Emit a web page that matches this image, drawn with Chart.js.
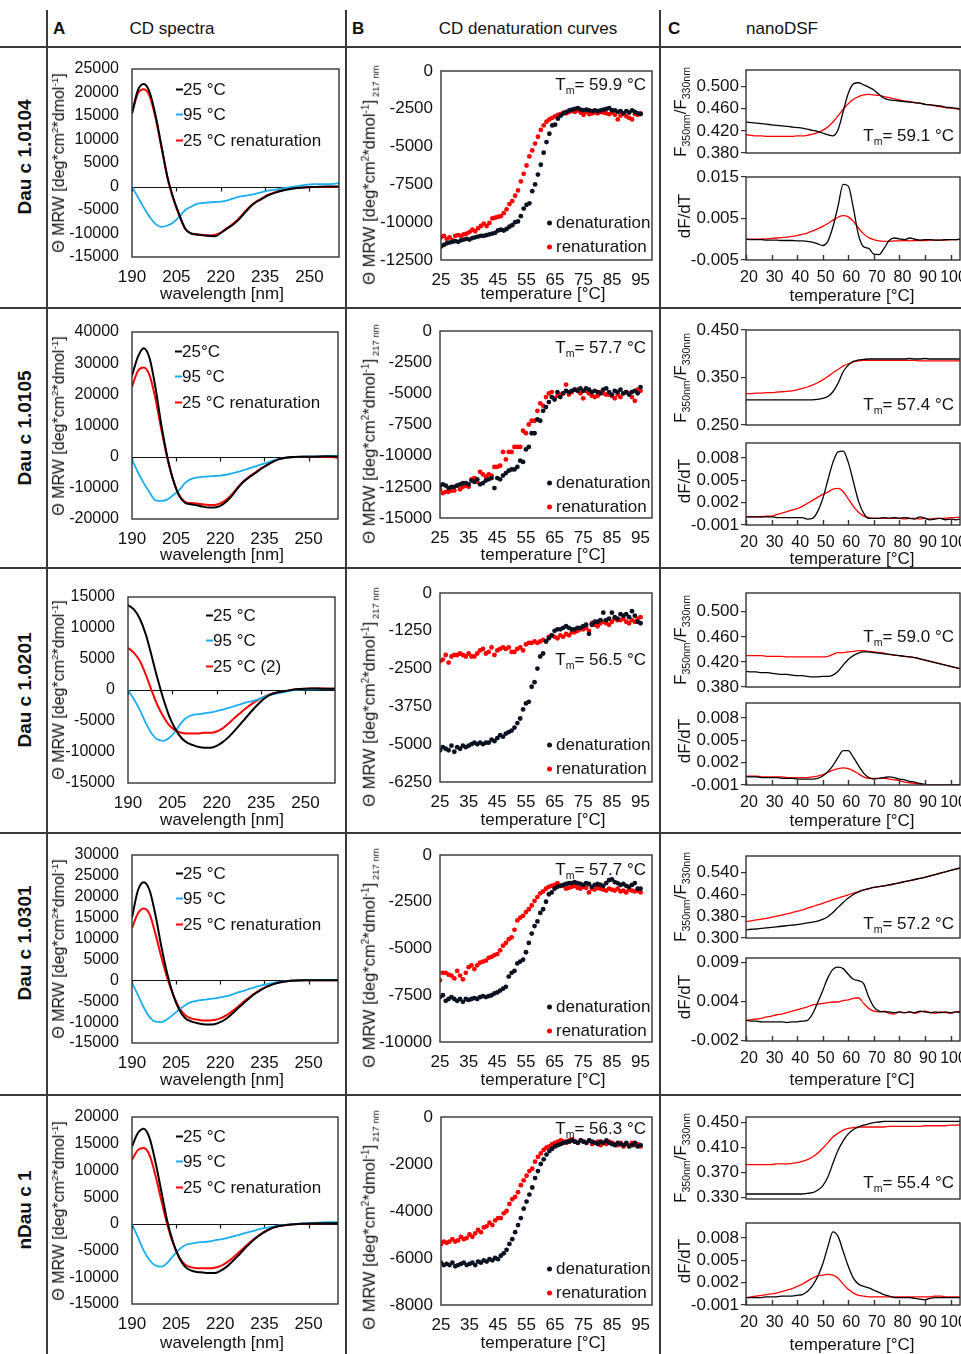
<!DOCTYPE html>
<html>
<head>
<meta charset="utf-8">
<script src="https://cdn.jsdelivr.net/npm/chart.js@4.4.1/dist/chart.umd.min.js"></script>
<style>
  body { margin: 0; background: #fff; }
  #fig { position: relative; width: 961px; height: 1354px; overflow: hidden; font-family: 'Liberation Sans', Arial, sans-serif; color: #111; font-size: 17px; }
  #fig canvas { position: absolute; }
  sub, sup { font-size: 62%; line-height: 0; }
  .dash { display: inline-block; width: 7px; height: 2px; vertical-align: middle; margin-top: -1px; }
  .dot { display: inline-block; width: 5px; height: 5px; border-radius: 50%; vertical-align: middle; margin-right: 4px; }
</style>
</head>
<body>
<div id="fig"></div>
<script>
// ---- x grids ----
const nm = [190,192,194,196,198,200,202,204,206,208,210,212,214,216,218,220,222,224,226,228,230,232,234,236,238,240,244,248,252,256,260];
const tempC = [25,26,27,28,29,30,31,32,33,34,35,36,37,38,39,40,41,42,43,44,45,46,47,48,49,50,51,52,53,54,55,56,57,58,59,60,61,62,63,64,65,66,67,68,69,70,71,72,73,74,75,76,77,78,79,80,81,82,83,84,85,86,87,88,89,90,91,92,93,94,95];
const dsfT = [20,22,24,26,28,30,32,34,36,38,40,42,44,46,48,50,52,54,56,58,60,62,64,66,68,70,72,74,76,78,80,82,84,86,88,90,92,94,96,98,100,102,104];

// ---- Dau c 1.0104 ----
const cd1_25 = [15500,20500,21800,20000,15000,8500,2000,-2500,-6000,-9000,-10000,-10200,-10400,-10500,-10600,-9900,-9000,-8200,-7100,-5700,-4300,-3300,-2600,-1900,-1400,-1000,-500,-200,-100,0,0];
const cd1_95 = [0,-2300,-4500,-6500,-8000,-8600,-8300,-7600,-6400,-5000,-4300,-3700,-3500,-3400,-3300,-3200,-3000,-2600,-2200,-2000,-1800,-1500,-1200,-900,-700,-500,-100,300,500,500,700];
const cd1_re = [15800,19800,20700,19200,14500,8200,1800,-2700,-6200,-9000,-10000,-10200,-10300,-10400,-10300,-9800,-8900,-8000,-6900,-5500,-4200,-3200,-2500,-1800,-1300,-900,-400,-200,-100,-100,-100];
const den1 = [-11600,-11500,-11400,-11350,-11300,-11250,-11300,-11200,-11150,-11100,
  -11150,-11050,-11000,-10950,-10900,-10900,-10850,-10800,-10750,-10700,
  -10550,-10500,-10550,-10450,-10300,-10200,-10000,-9950,-9600,-9100,
  -8850,-8750,-7950,-7500,-6850,-6200,-5400,-4700,-4150,-3600,
  -3550,-3150,-2950,-2800,-2700,-2600,-2550,-2500,-2450,-2550,
  -2600,-2550,-2600,-2650,-2600,-2650,-2600,-2550,-2500,-2450,
  -2600,-2600,-2700,-2650,-2800,-2650,-2750,-2600,-2700,-2800,-2850];
const ren1 = [-11000,-10900,-11100,-11000,-11200,-10900,-10850,-10900,-10800,-10750,
  -10650,-10500,-10600,-10400,-10250,-10100,-10250,-10050,-9750,-9700,
  -9650,-9600,-9400,-9150,-8800,-8600,-8250,-7900,-7300,-6800,
  -6250,-5650,-5250,-4800,-4350,-3900,-3600,-3350,-3200,-3100,
  -3000,-2900,-2850,-2750,-2800,-2700,-2650,-2700,-2600,-2750,
  -2900,-2700,-2850,-2800,-2750,-2800,-2700,-2750,-2800,-2850,
  -2750,-2900,-3200,-2950,-2800,-3000,-3100,-3200,-2850,-2900,-2800];
const ratio1_k = [.436,.435,.434,.433,.432,.431,.430,.429,.428,.427, .426,.425,.423,.421,.419,.416,.413,.411,.422,.455,
  .488,.505,.507,.503,.499,.494,.486,.479,.476,.475, .474,.473,.472,.471,.470,.468,.467,.466,.465,.463, .462,.461,.459];
const ratio1_r = [.413,.412,.411,.411,.410,.410,.410,.410,.410,.410, .411,.411,.412,.414,.417,.421,.427,.436,.447,.459,
  .469,.477,.482,.485,.486,.485,.484,.482,.480,.478, .476,.474,.473,.471,.470,.468,.467,.465,.464,.462, .461,.460,.458];
const deriv1_k = [0,-.0001,-.0001,-.0001,-.0002,-.0002,-.0002,-.0003,-.0003,-.0003, -.0004,-.0004,-.0005,-.0007,-.0011,-.0015,-.0005,.003,.008,.0132,
  .0128,.0075,.001,-.0018,-.0022,-.0036,-.0037,-.0022,-.0003,.0003, .0001,-.0001,.0003,0,-.0002,-.0001,-.0001,-.0002,-.0002,-.0001, -.0001,-.0001,0];
const deriv1_r = [0,0,0,.0001,.0001,.0002,.0003,.0004,.0005,.0007, .0009,.0012,.0015,.002,.0025,.0031,.0038,.0046,.0053,.0057,
  .0054,.0043,.0027,.0013,.0004,-.0001,-.0004,-.0005,-.0005,-.0004, -.0004,-.0003,-.0004,-.0003,-.0003,-.0003,-.0002,-.0002,-.0002,-.0002, -.0001,-.0001,0];

// ---- Dau c 1.0105 ----
const cd2_25 = [26000,32000,34800,31500,22000,10000,0,-7500,-12500,-14800,-15300,-15600,-16000,-16300,-16300,-15800,-14500,-12500,-10000,-8000,-6500,-5200,-3800,-2600,-1600,-800,-100,0,0,100,0];
const cd2_95 = [-1000,-5000,-8500,-11500,-14000,-14200,-13800,-12300,-10800,-8500,-7200,-6700,-6500,-6300,-6200,-6100,-5800,-5400,-4900,-4300,-3700,-3100,-2500,-1900,-1200,-700,-200,0,100,200,300];
const cd2_re = [22500,27500,28600,26000,18500,8500,-500,-7500,-12300,-14500,-14900,-15000,-15300,-15500,-15500,-15000,-13800,-12000,-9800,-7800,-6300,-5000,-3700,-2600,-1600,-800,-200,0,0,0,-300];
const den2 = [-12400,-12300,-12400,-12600,-12500,-12500,-12400,-12300,-12200,-12200,
  -12300,-12000,-12100,-11900,-12300,-12200,-12000,-11900,-11800,-12600,
  -11800,-11900,-11600,-11400,-11200,-11100,-11100,-10900,-10400,-10500,
  -9500,-9300,-8200,-8200,-7100,-7200,-6400,-6100,-5700,-5300,
  -5500,-4900,-5300,-5000,-4800,-4900,-4800,-4700,-4800,-4600,
  -4800,-4600,-4700,-4900,-4800,-4900,-5000,-4700,-4600,-4900,
  -5100,-4800,-4900,-4700,-5000,-4900,-5100,-4900,-4800,-5000,-4500];
const ren2 = [-12700,-13000,-12900,-12900,-12800,-12800,-12400,-12700,-12500,-12400,
  -12500,-11900,-11800,-12100,-11300,-11500,-11700,-11500,-11600,-10900,
  -10900,-10800,-9700,-10300,-9700,-9700,-9300,-9300,-9300,-8000,
  -8200,-7500,-7200,-7200,-6400,-5800,-6000,-5300,-5000,-4900,
  -5400,-5200,-5100,-5000,-4300,-5100,-4900,-4700,-4700,-5000,
  -5400,-4800,-5000,-5200,-5300,-5200,-4900,-5000,-5100,-5100,
  -5200,-5400,-5100,-5300,-5000,-4900,-5000,-5300,-5600,-4700,-4800];
const ratio2_k = [.303,.303,.303,.303,.303,.303,.303,.303,.303,.303, .303,.303,.303,.303,.304,.306,.310,.320,.338,.362,
  .376,.384,.387,.388,.389,.389,.389,.389,.389,.389, .389,.389,.390,.389,.389,.390,.389,.389,.389,.389, .389,.389,.389];
const ratio2_r = [.316,.316,.317,.317,.318,.318,.319,.320,.321,.322, .324,.327,.330,.334,.339,.345,.352,.360,.367,.374,
  .379,.383,.385,.386,.386,.386,.386,.386,.386,.386, .386,.386,.386,.386,.385,.385,.385,.385,.385,.385, .385,.385,.385];
const deriv2_k = [.0001,.0001,.0001,.0001,.0001,.0001,0,0,0,0, 0,0,-.0002,-.0001,.0008,.0025,.005,.0074,.0088,.0089,
  .0074,.0048,.0022,.0006,-.0001,-.0001,-.0001,0,-.0001,0, -.0001,0,-.0001,-.0002,.0001,-.0001,-.0003,-.0002,-.0001,-.0003, -.0002,-.0003,-.0002];
const deriv2_r = [.0001,.0001,.0001,.0001,.0002,.0002,.0004,.0006,.0008,.001, .0012,.0015,.0019,.0023,.0027,.0031,.0034,.0038,.0039,.0035,
  .0025,.0015,.0007,.0002,0,-.0001,-.0001,-.0001,-.0001,-.0001, -.0001,-.0002,-.0001,-.0001,-.0002,-.0001,-.0002,-.0001,-.0001,-.0001, 0,0,.0001];

// ---- Dau c 1.0201 ----
const cd3_25 = [13700,13000,11500,9000,5500,1800,-1500,-4300,-6300,-7700,-8500,-8900,-9200,-9300,-9300,-9000,-8400,-7600,-6600,-5500,-4400,-3300,-2300,-1400,-800,-450,-100,150,250,200,200];
const cd3_95 = [0,-1500,-3200,-5300,-7000,-8000,-8200,-7700,-6700,-5300,-4400,-4000,-3900,-3750,-3600,-3400,-3150,-2900,-2600,-2300,-2000,-1800,-1500,-1100,-800,-600,-200,50,100,150,200];
const cd3_re = [6800,6000,4700,2500,-100,-2500,-4300,-5700,-6500,-6900,-7000,-7000,-7000,-6900,-6900,-6700,-6200,-5400,-4500,-3700,-2900,-2200,-1600,-1100,-700,-450,-100,150,250,250,200];
const den3 = [-5200,-5100,-5150,-5200,-5050,-5250,-5100,-5150,-5050,-5100,
  -5050,-5000,-4950,-5000,-4950,-5000,-4950,-4950,-4850,-4900,
  -4800,-4700,-4750,-4650,-4600,-4550,-4450,-4300,-4150,-3850,
  -3650,-3600,-3100,-2950,-2500,-2100,-2000,-1600,-1500,-1400,
  -1250,-1200,-1200,-1150,-1100,-1150,-1200,-1200,-1150,-1150,
  -1100,-1050,-1350,-1050,-950,-950,-900,-650,-900,-850,
  -650,-800,-850,-700,-750,-700,-800,-600,-750,-950,-1000];
const ren3 = [-2250,-2200,-2050,-2300,-2100,-2050,-2050,-2000,-2050,-2100,
  -2000,-2100,-2100,-2000,-1900,-1850,-2000,-1950,-1800,-2050,
  -1900,-1850,-1800,-1850,-1800,-1950,-1950,-1850,-1800,-1900,
  -1700,-1650,-1650,-1600,-1650,-1600,-1550,-1600,-1450,-1400,
  -1450,-1500,-1400,-1450,-1350,-1400,-1300,-1300,-1250,-1200,
  -1200,-1150,-1250,-1000,-1050,-1100,-1000,-950,-1000,-1050,
  -950,-850,-900,-900,-850,-950,-1000,-900,-950,-850,-800];
const ratio3_k = [.405,.404,.404,.403,.403,.402,.401,.400,.400,.399, .398,.398,.397,.396,.396,.397,.397,.399,.405,.415,
  .424,.430,.434,.436,.436,.435,.434,.433,.432,.431, .430,.429,.428,.427,.425,.423,.421,.419,.417,.415, .413,.411,.409];
const ratio3_r = [.430,.430,.430,.430,.429,.429,.429,.429,.428,.428, .428,.428,.428,.428,.428,.428,.429,.432,.435,.435,
  .436,.437,.438,.438,.437,.436,.435,.434,.432,.431, .430,.429,.428,.427,.425,.423,.421,.419,.417,.415, .413,.411,.409];
const deriv3_k = [.0001,.0001,.0001,0,0,0,0,-.0001,-.0001,-.0001, -.0002,-.0002,-.0002,-.0002,-.0001,.0002,.0008,.0016,.0027,.0036,
  .0036,.0027,.0016,.0006,0,-.0002,-.0001,0,.0001,0, -.0002,-.0003,-.0005,-.0006,-.0008,-.0009,-.001,-.001,-.001,-.001, -.001,-.001,-.001];
const deriv3_r = [.0002,.0002,.0002,.0001,.0001,.0001,.0001,.0001,0,0, 0,0,0,.0001,.0002,.0004,.0007,.001,.0012,.0013,
  .0012,.0009,.0005,.0001,-.0001,-.0001,-.0001,-.0001,-.0002,-.0003, -.0004,-.0006,-.0007,-.0008,-.0009,-.001,-.001,-.001,-.001,-.001, -.001,-.001,-.001];

// ---- Dau c 1.0301 ----
const cd4_25 = [15000,21500,23500,21500,15500,8000,1500,-3500,-7000,-9000,-9800,-10200,-10500,-10600,-10500,-10000,-9200,-8000,-6700,-5400,-4200,-3100,-2200,-1500,-900,-500,-100,0,0,0,0];
const cd4_95 = [-500,-3500,-6500,-8800,-9900,-10000,-9300,-8200,-7000,-6000,-5200,-4900,-4700,-4500,-4300,-4100,-3800,-3400,-2900,-2500,-2000,-1600,-1200,-900,-600,-400,-100,0,100,100,100];
const cd4_re = [12500,16000,17200,15800,11000,5500,500,-3500,-6500,-8300,-9100,-9400,-9600,-9600,-9500,-9100,-8400,-7400,-6300,-5100,-4000,-3000,-2100,-1400,-900,-500,-100,0,0,0,0];
const den4 = [-7600,-7500,-7800,-7700,-7600,-7700,-7800,-7700,-7850,-7700,
  -7750,-7700,-7650,-7700,-7600,-7550,-7600,-7550,-7500,-7400,
  -7350,-7250,-7150,-7050,-6500,-6300,-6200,-5800,-5700,-5600,
  -5200,-4700,-4200,-3800,-3550,-3100,-2900,-2500,-2100,-2000,
  -1800,-1700,-1650,-1600,-1550,-1500,-1500,-1450,-1500,-1550,
  -1600,-1500,-1550,-1700,-1600,-1550,-1600,-1650,-1500,-1350,
  -1300,-1450,-1500,-1600,-1550,-1650,-1700,-1600,-1500,-1800,-1800];
const ren4 = [-6700,-6300,-6300,-6400,-6450,-6600,-6200,-6450,-6650,-6300,
  -6000,-5900,-6100,-5900,-5750,-5700,-5650,-5500,-5450,-5350,
  -5300,-5100,-4850,-4700,-4500,-4400,-4000,-3500,-3350,-3250,
  -3050,-2900,-2700,-2450,-2250,-2050,-1950,-1800,-1700,-1650,
  -1600,-1500,-1650,-1650,-1800,-1750,-1700,-1650,-1750,-1800,
  -1700,-1750,-2000,-1800,-1850,-1750,-1800,-1850,-1900,-1800,
  -1850,-1900,-1800,-1950,-1900,-2000,-1850,-1900,-1950,-1900,-2000];
const ratio4_k = [.330,.332,.333,.335,.337,.339,.341,.343,.345,.347, .349,.352,.355,.358,.362,.368,.378,.393,.412,.430,
  .446,.459,.469,.476,.481,.485,.488,.491,.494,.498, .502,.506,.510,.514,.518,.522,.527,.532,.537,.542, .547,.552,.557];
const ratio4_r = [.360,.363,.366,.369,.372,.376,.380,.384,.388,.393, .398,.403,.409,.415,.421,.427,.434,.440,.446,.452,
  .458,.464,.469,.475,.480,.485,.488,.491,.494,.498, .502,.506,.510,.514,.518,.522,.527,.532,.537,.542, .547,.552,.557];
const deriv4_k = [.0013,.0012,.0012,.0011,.0011,.0011,.0011,.0011,.001,.0011, .0011,.0012,.0013,.0022,.0038,.0055,.0073,.0085,.0088,.0086,
  .0078,.0071,.0069,.0065,.0046,.0032,.0026,.0025,.0025,.0024, .0025,.0024,.0025,.0024,.0026,.0025,.0024,.0025,.0024,.0025, .0024,.0025,.0024];
const deriv4_r = [.0013,.0014,.0015,.0016,.0018,.0019,.0021,.0022,.0024,.0026, .0028,.0030,.0032,.0035,.0036,.0037,.0038,.0039,.0039,.0041,
  .0042,.0044,.0045,.0037,.0030,.0026,.0025,.0026,.0023,.0022, .0025,.0024,.0025,.0023,.0025,.0026,.0024,.0023,.0025,.0024, .0023,.0025,.0026];

// ---- nDau c 1 ----
const cd5_25 = [14500,17000,17800,16000,11500,6000,500,-3500,-6300,-8000,-8700,-9000,-9100,-9200,-9200,-8800,-8100,-7100,-6000,-4800,-3700,-2700,-1900,-1200,-700,-400,-100,0,100,100,100];
const cd5_95 = [0,-2500,-5000,-6800,-7800,-8000,-7300,-6000,-4800,-4000,-3700,-3500,-3400,-3300,-3100,-2900,-2700,-2400,-2100,-1800,-1500,-1200,-900,-700,-500,-300,-100,100,200,300,300];
const cd5_re = [12000,13800,14200,12800,9000,4300,-200,-3700,-6200,-7600,-8100,-8300,-8300,-8300,-8200,-7900,-7300,-6500,-5500,-4500,-3500,-2600,-1800,-1200,-700,-400,-100,0,100,100,100];
const den5 = [-6200,-6300,-6250,-6300,-6200,-6350,-6300,-6250,-6200,-6300,
  -6250,-6200,-6300,-6150,-6200,-6100,-6150,-6050,-6100,-6000,
  -6050,-5900,-5800,-5650,-5400,-5200,-4900,-4600,-4300,-3900,
  -3600,-3300,-3000,-2600,-2300,-2000,-1800,-1600,-1450,-1350,
  -1250,-1200,-1150,-1100,-1050,-1050,-1000,-1050,-1100,-1000,
  -1050,-1100,-1000,-1050,-1100,-1150,-1050,-1100,-1000,-1100,
  -1150,-1200,-1100,-1150,-1200,-1100,-1250,-1200,-1100,-1250,-1200];
const ren5 = [-5400,-5300,-5350,-5300,-5200,-5300,-5250,-5100,-5200,-5150,
  -5000,-5100,-4950,-4800,-4900,-4700,-4650,-4500,-4600,-4400,
  -4300,-4300,-4100,-4000,-3700,-3500,-3400,-3200,-2900,-2700,
  -2500,-2300,-2200,-1900,-1700,-1550,-1400,-1300,-1250,-1150,
  -1100,-1050,-1000,-1050,-1100,-1000,-950,-1050,-1100,-1000,
  -1050,-1100,-1000,-1150,-1100,-1050,-1200,-1100,-1150,-1050,
  -1100,-1150,-1200,-1100,-1250,-1150,-1200,-1100,-1200,-1150,-1250];
const ratio5_k = [.336,.336,.336,.336,.336,.336,.336,.336,.336,.336, .336,.336,.337,.338,.342,.349,.363,.385,.406,.421,
  .432,.439,.443,.446,.448,.450,.451,.452,.452,.452, .452,.452,.452,.452,.452,.452,.452,.452,.452,.452, .452,.452,.452];
const ratio5_r = [.383,.383,.383,.383,.383,.383,.384,.384,.384,.385, .386,.388,.391,.395,.401,.409,.418,.427,.433,.438,
  .441,.442,.443,.443,.443,.443,.443,.443,.444,.444, .444,.444,.444,.444,.444,.445,.445,.445,.445,.445, .446,.446,.446];
const deriv5_k = [0,0,0,0,.0001,.0001,.0001,.0002,.0002,.0002, .0003,.0004,.0008,.0016,.0028,.0045,.0068,.0088,.0082,.0062,
  .0042,.0026,.0018,.0015,.0013,.001,.0007,.0004,.0002,0, 0,0,0,-.0001,-.0002,-.0003,-.0001,0,0,0, 0,0,0];
const deriv5_r = [0,.0001,.0002,.0003,.0004,.0005,.0006,.0008,.001,.0012, .0015,.0018,.0022,.0026,.0029,.003,.0031,.003,.0026,.0018,
  .0011,.0006,.0003,.0002,.0001,.0001,.0001,.0001,.0001,.0001, .0001,.0001,.0001,.0001,.0001,.0001,.0001,.0002,.0002,.0001, .0001,.0001,.0001];

// ---- axis ticks ----
const cdTicks = [190,205,220,235,250];
const denTicks = [25,35,45,55,65,75,85,95];
const dsfTicks = [20,30,40,50,60,70,80,90,100];

const BLACK = '#000000', RED = '#ff0000', BLUE = '#1aaef0', DOT = '#0b1222';

Chart.defaults.font.family = "'Liberation Sans', Arial, sans-serif";
Chart.defaults.font.size = 17;
Chart.defaults.color = '#111';

const fig = document.getElementById('fig');

function el(css, html) {
  const e = document.createElement('div');
  e.style.cssText = 'position:absolute;white-space:nowrap;line-height:1;' + css;
  if (html != null) e.innerHTML = html;
  fig.appendChild(e);
  return e;
}
function label(html, x, y, align, css) {
  const tx = align === 'r' ? '-100%' : align === 'c' ? '-50%' : '0';
  return el(`left:${x}px;top:${y}px;transform:translate(${tx},-50%);` + (css || ''), html);
}
function vlabel(html, x, y, css) {
  return el(`left:${x}px;top:${y}px;transform:translate(-50%,-50%) rotate(-90deg);` + (css || ''), html);
}

// frame, zero line and inner tick marks
const framePlugin = {
  id: 'frame',
  beforeDatasetsDraw(chart, args, opts) {
    if (!opts.zero) return;
    const {ctx, chartArea: a, scales} = chart;
    const y0 = Math.round(scales.y.getPixelForValue(0)) + 0.5;
    ctx.save();
    ctx.strokeStyle = '#111';
    ctx.lineWidth = 1.2;
    ctx.beginPath();
    ctx.moveTo(a.left, y0);
    ctx.lineTo(a.right, y0);
    scales.x.ticks.forEach(t => {
      const x = Math.round(scales.x.getPixelForValue(t.value)) + 0.5;
      ctx.moveTo(x, y0);
      ctx.lineTo(x, y0 + 4);
    });
    ctx.stroke();
    ctx.restore();
  },
  afterDatasetsDraw(chart, args, opts) {
    const {ctx, chartArea: a, scales} = chart;
    ctx.save();
    ctx.strokeStyle = '#333';
    ctx.lineWidth = 1.4;
    if (opts.innerTicks) {
      ctx.beginPath();
      scales.x.ticks.forEach(t => {
        const x = Math.round(scales.x.getPixelForValue(t.value)) + 0.5;
        ctx.moveTo(x, a.bottom);
        ctx.lineTo(x, a.bottom - 5);
      });
      ctx.stroke();
    }
    ctx.strokeRect(a.left, a.top, a.width, a.height);
    ctx.restore();
  }
};

const pts = (xs, ys) => xs.map((x, i) => ({x: x, y: ys[i]}));
const line = (xs, ys, color, w) => ({data: pts(xs, ys), borderColor: color, borderWidth: w, pointRadius: 0, cubicInterpolationMode: 'monotone', fill: false});
const dots = (ys, color) => ({data: pts(tempC, ys), showLine: false, pointRadius: 2.4, pointBorderWidth: 0, pointBackgroundColor: color, borderColor: color});

function makeChart(s) {
  const [x0, y0, x1, y1] = s.box;
  const padTop = 12, padRight = s.padRight, padBottom = s.showX ? 0 : 10;
  const xH = s.showX ? 36 : 0;
  const w = x1 - x0 + s.yW + padRight, h = y1 - y0 + padTop + xH + padBottom;
  const cv = document.createElement('canvas');
  cv.width = w; cv.height = h;
  cv.style.cssText = `left:${x0 - s.yW}px;top:${y0 - padTop}px;width:${w}px;height:${h}px`;
  fig.appendChild(cv);
  const setTicks = vals => sc => { sc.ticks = vals.map(v => ({value: v})); };
  new Chart(cv, {
    type: 'line',
    data: {datasets: s.datasets},
    options: {
      responsive: false,
      animation: false,
      devicePixelRatio: 1,
      layout: {padding: {top: padTop, right: padRight, bottom: padBottom, left: 0}},
      plugins: {legend: {display: false}, tooltip: {enabled: false}, frame: {zero: s.zero, innerTicks: s.innerTicks}},
      scales: {
        x: {
          type: 'linear', min: s.xMin, max: s.xMax, display: s.showX,
          grid: {display: false, drawTicks: false}, border: {display: false},
          afterBuildTicks: setTicks(s.xTicks),
          afterFit: sc => { sc.height = xH; sc.paddingLeft = 0; sc.paddingRight = 0; },
          ticks: {padding: s.xPad || 10, autoSkip: false, maxRotation: 0, minRotation: 0, labelOffset: s.xOff || 0,
                  font: {size: s.xFont || 17}, callback: v => String(v)}
        },
        y: {
          type: 'linear', min: s.yMin, max: s.yMax,
          grid: s.outTicks ? {display: true, drawOnChartArea: false, drawTicks: true, tickLength: 5, color: '#333', lineWidth: 1.2}
                           : {display: false, drawTicks: false},
          border: {display: false},
          afterBuildTicks: setTicks(s.yTicks),
          afterFit: sc => { sc.width = s.yW; sc.paddingTop = 0; sc.paddingBottom = 0; },
          ticks: {padding: s.yPad, autoSkip: false, font: {size: s.yFont || 17}, callback: (v, i) => s.yLabels[i]}
        }
      }
    },
    plugins: [framePlugin]
  });
}

const fmt = (vals, d) => vals.map(v => d ? v.toFixed(d) : String(v));

// ---- table grid and headers ----
[47, 308, 568, 833, 1095].forEach(y => el(`left:0;top:${y - 1}px;width:961px;height:2px;background:#3a3a3a`));
[47, 346, 660].forEach(x => el(`left:${x - 1}px;top:10px;width:2px;height:1344px;background:#3a3a3a`));
label('<b>A</b>', 53, 28, 'l');
label('CD spectra', 172, 28, 'c');
label('<b>B</b>', 352, 28, 'l');
label('CD denaturation curves', 528, 28, 'c');
label('<b>C</b>', 668, 28, 'l');
label('nanoDSF', 782, 28, 'c');

const cdTitle = 'Θ MRW [deg*cm<sup>2</sup>*dmol<sup>-1</sup>]';
const denTitle = cdTitle + '<sub style="font-size:58%">&nbsp;217 nm</sub>';
const ratioTitle = 'F<sub>350nm</sub>/F<sub>330nm</sub>';

// one table row: CD spectra, CD melting curve, nanoDSF ratio + first derivative
function addRow(r) {
  vlabel(r.name, 24, r.nameY, 'font-weight:bold;font-size:19px');

  // A: CD spectra
  makeChart({box: r.boxA, yW: 75, yPad: 13, yFont: 16, padRight: 12, showX: true, zero: true,
    xMin: 190, xMax: 260, xTicks: cdTicks, yMin: r.cdY[0], yMax: r.cdY[r.cdY.length - 1], yTicks: r.cdY, yLabels: fmt(r.cdY),
    datasets: [line(nm, r.cd[0], BLACK, 2), line(nm, r.cd[1], BLUE, 1.8), line(nm, r.cd[2], RED, 2)]});
  vlabel(cdTitle, 59, (r.boxA[1] + r.boxA[3]) / 2, 'font-size:16px');
  label('wavelength [nm]', 222, r.titleY, 'c');
  const cols = [BLACK, BLUE, RED];
  r.cdNames.forEach((t, i) => label(`<span class="dash" style="background:${cols[i]}"></span>${t}`, r.legA[0], r.legA[1] + i * 25.3, 'l'));

  // B: CD denaturation curve
  makeChart({box: r.boxB, yW: 70, yPad: 8, padRight: 12, showX: true,
    xMin: 25, xMax: 99, xTicks: denTicks, yMin: r.denY[0], yMax: 0, yTicks: r.denY, yLabels: fmt(r.denY),
    datasets: [dots(r.den[0], DOT), dots(r.den[1], RED)]});
  vlabel(denTitle, 369, (r.boxB[1] + r.boxB[3]) / 2 + 9, 'font-size:16.5px');
  label('temperature [°C]', 543, r.titleY, 'c');
  label(`T<sub>m</sub>= ${r.tmB} °C`, 646, r.tmBY, 'r');
  label(`<span class="dot" style="background:${DOT}"></span>denaturation`, 547, r.legB, 'l');
  label(`<span class="dot" style="background:${RED}"></span>renaturation`, 547, r.legB + 23.5, 'l');

  // C: nanoDSF ratio and derivative
  makeChart({box: r.boxC1, yW: 62, yPad: 2, padRight: 1, showX: false, outTicks: true,
    xMin: 20, xMax: 103.7, xTicks: dsfTicks, yMin: r.ratioY[0], yMax: r.ratioY[1], yTicks: r.ratioTicks, yLabels: fmt(r.ratioTicks, 3),
    datasets: [line(dsfT, r.ratio[0], BLACK, 1.3), line(dsfT, r.ratio[1], RED, 1.3)]});
  makeChart({box: r.boxC2, yW: 62, yPad: 2, padRight: 1, showX: true, outTicks: true, innerTicks: true, xOff: 3, xPad: 8, xFont: 16,
    xMin: 20, xMax: 103.7, xTicks: dsfTicks, yMin: r.derivY[0], yMax: r.derivY[1], yTicks: r.derivTicks, yLabels: r.derivLabels || fmt(r.derivTicks, 3),
    datasets: [line(dsfT, r.deriv[0], BLACK, 1.3), line(dsfT, r.deriv[1], RED, 1.3)]});
  vlabel(ratioTitle, 680, (r.boxC1[1] + r.boxC1[3]) / 2);
  vlabel('dF/dT', 684, (r.boxC2[1] + r.boxC2[3]) / 2 - 3);
  label('temperature [°C]', 852, r.titleC, 'c');
  label(`T<sub>m</sub>= ${r.tmC} °C`, 954, r.tmCY, 'r');
}

const dsfDeriv = [-0.001, 0.002, 0.005, 0.008];

addRow({name: 'Dau c 1.0104', nameY: 157, titleY: 293, titleC: 295,
  boxA: [132, 69, 339, 257], cdY: [-15000,-10000,-5000,0,5000,10000,15000,20000,25000],
  cd: [cd1_25, cd1_95, cd1_re], cdNames: ['25 °C', '95 °C', '25 °C renaturation'], legA: [176, 89],
  boxB: [441, 71, 652, 260], denY: [-12500,-10000,-7500,-5000,-2500,0], den: [den1, ren1],
  tmB: '59.9', tmBY: 84, legB: 222,
  boxC1: [746, 70, 960, 153], ratioY: [0.38, 0.53], ratioTicks: [0.38, 0.42, 0.46, 0.5], ratio: [ratio1_k, ratio1_r],
  boxC2: [746, 177, 960, 260], derivY: [-0.005, 0.015], derivTicks: [-0.005, 0.005, 0.015], deriv: [deriv1_k, deriv1_r],
  tmC: '59.1', tmCY: 135});

addRow({name: 'Dau c 1.0105', nameY: 428, titleY: 554, titleC: 558,
  boxA: [132, 332, 338, 519], cdY: [-20000,-10000,0,10000,20000,30000,40000],
  cd: [cd2_25, cd2_95, cd2_re], cdNames: ['25°C', '95 °C', '25 °C renaturation'], legA: [175, 351],
  boxB: [440, 331, 652, 518], denY: [-15000,-12500,-10000,-7500,-5000,-2500,0], den: [den2, ren2],
  tmB: '57.7', tmBY: 347, legB: 482,
  boxC1: [746, 330, 960, 425], ratioY: [0.25, 0.45], ratioTicks: [0.25, 0.35, 0.45], ratio: [ratio2_k, ratio2_r],
  boxC2: [746, 443, 960, 525], derivY: [-0.001, 0.010], derivTicks: dsfDeriv, deriv: [deriv2_k, deriv2_r],
  tmC: '57.4', tmCY: 404});

addRow({name: 'Dau c 1.0201', nameY: 690, titleY: 819, titleC: 820,
  boxA: [128, 597, 335, 783], cdY: [-15000,-10000,-5000,0,5000,10000,15000],
  cd: [cd3_25, cd3_95, cd3_re], cdNames: ['25 °C', '95 °C', '25 °C (2)'], legA: [206, 615],
  boxB: [440, 593, 652, 782], denY: [-6250,-5000,-3750,-2500,-1250,0], den: [den3, ren3],
  tmB: '56.5', tmBY: 659, legB: 744,
  boxC1: [746, 593, 960, 687], ratioY: [0.38, 0.53], ratioTicks: [0.38, 0.42, 0.46, 0.5], ratio: [ratio3_k, ratio3_r],
  boxC2: [746, 703, 960, 785], derivY: [-0.001, 0.010], derivTicks: dsfDeriv, deriv: [deriv3_k, deriv3_r],
  tmC: '59.0', tmCY: 636});

addRow({name: 'Dau c 1.0301', nameY: 943, titleY: 1079, titleC: 1079,
  boxA: [132, 855, 338, 1043], cdY: [-15000,-10000,-5000,0,5000,10000,15000,20000,25000,30000],
  cd: [cd4_25, cd4_95, cd4_re], cdNames: ['25 °C', '95 °C', '25 °C renaturation'], legA: [176, 873],
  boxB: [440, 855, 652, 1042], denY: [-10000,-7500,-5000,-2500,0], den: [den4, ren4],
  tmB: '57.7', tmBY: 869, legB: 1006,
  boxC1: [746, 856, 960, 938], ratioY: [0.30, 0.60], ratioTicks: [0.3, 0.38, 0.46, 0.54], ratio: [ratio4_k, ratio4_r],
  boxC2: [746, 958, 960, 1041], derivY: [-0.0016, 0.0101], derivTicks: [-0.0015, 0.004, 0.0095], derivLabels: ['-0.002', '0.004', '0.009'],
  deriv: [deriv4_k, deriv4_r], tmC: '57.2', tmCY: 923});

addRow({name: 'nDau c 1', nameY: 1210, titleY: 1342, titleC: 1344,
  boxA: [132, 1117, 338, 1304], cdY: [-15000,-10000,-5000,0,5000,10000,15000,20000],
  cd: [cd5_25, cd5_95, cd5_re], cdNames: ['25 °C', '95 °C', '25 °C renaturation'], legA: [176, 1136],
  boxB: [441, 1117, 652, 1305], denY: [-8000,-6000,-4000,-2000,0], den: [den5, ren5],
  tmB: '56.3', tmBY: 1128, legB: 1268,
  boxC1: [746, 1117, 960, 1199], ratioY: [0.328, 0.459], ratioTicks: [0.33, 0.37, 0.41, 0.45], ratio: [ratio5_k, ratio5_r],
  boxC2: [746, 1223, 960, 1305], derivY: [-0.001, 0.010], derivTicks: dsfDeriv, deriv: [deriv5_k, deriv5_r],
  tmC: '55.4', tmCY: 1182});
</script>
</body>
</html>
